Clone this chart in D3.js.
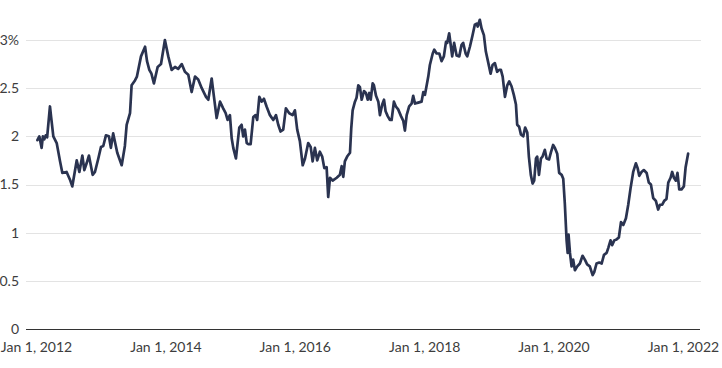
<!DOCTYPE html>
<html>
<head>
<meta charset="utf-8">
<script src="https://cdn.jsdelivr.net/npm/d3@7"></script>
<style>
  html, body { margin: 0; padding: 0; background: #fff; }
  svg { display: block; }
  text { font-family: Lato, "Noto Sans", sans-serif; }
</style>
</head>
<body>
<svg id="chart" width="722" height="368"></svg>
<script>
// ---- data (10-year yield, %) ----
const dates = [
"2012-01-06","2012-01-17","2012-01-30","2012-02-06","2012-02-14","2012-02-22","2012-03-01","2012-03-17","2012-03-23","2012-04-05","2012-04-24","2012-05-13","2012-05-26","2012-06-19","2012-07-08","2012-07-21","2012-08-15","2012-08-30","2012-09-16","2012-09-27","2012-10-10","2012-10-23","2012-11-13","2012-11-26","2012-12-15","2012-12-30",
"2013-01-12","2013-01-27","2013-02-13","2013-02-24","2013-03-09","2013-04-01","2013-04-26","2013-05-14","2013-05-24","2013-06-12","2013-06-21","2013-07-10","2013-07-21","2013-08-13","2013-09-05","2013-09-16","2013-09-29","2013-10-11","2013-10-25","2013-11-15","2013-12-04","2013-12-26",
"2014-01-14","2014-02-02","2014-02-21","2014-03-11","2014-03-31","2014-04-18","2014-05-07","2014-05-26","2014-06-14","2014-07-02","2014-07-22","2014-08-15","2014-08-28","2014-09-16","2014-09-29","2014-10-14","2014-11-02","2014-11-20","2014-12-04","2014-12-15","2014-12-28",
"2015-01-07","2015-01-16","2015-01-31","2015-02-19","2015-03-04","2015-03-13","2015-03-23","2015-04-02","2015-04-11","2015-04-24","2015-05-09","2015-05-22","2015-05-31","2015-06-12","2015-06-25","2015-07-08","2015-07-23","2015-08-11","2015-08-30","2015-09-14","2015-09-27","2015-10-10","2015-10-25","2015-11-09","2015-11-28","2015-12-17","2015-12-30",
"2016-01-12","2016-01-27","2016-02-12","2016-02-25","2016-03-14","2016-03-28","2016-04-08","2016-04-21","2016-05-04","2016-05-19","2016-06-01","2016-06-13","2016-06-26","2016-07-05","2016-07-15","2016-07-30","2016-08-22","2016-09-09","2016-09-19","2016-09-28","2016-10-07","2016-10-20","2016-11-05","2016-11-12","2016-11-20","2016-12-03","2016-12-12","2016-12-22","2016-12-31",
"2017-01-10","2017-01-23","2017-02-03","2017-02-13","2017-02-22","2017-03-02","2017-03-13","2017-03-20","2017-04-01","2017-04-14","2017-04-23","2017-05-06","2017-05-16","2017-05-25","2017-06-06","2017-06-18","2017-06-28","2017-07-11","2017-07-22","2017-08-04","2017-08-20","2017-09-02","2017-09-11","2017-09-21","2017-10-05","2017-10-19","2017-10-28","2017-11-07","2017-11-25","2017-12-14","2017-12-24",
"2018-01-02","2018-01-12","2018-01-21","2018-01-30","2018-02-15","2018-02-24","2018-03-09","2018-03-24","2018-04-06","2018-04-19","2018-05-01","2018-05-08","2018-05-19","2018-05-29","2018-06-05","2018-06-16","2018-06-30","2018-07-15","2018-07-28","2018-08-06","2018-08-20","2018-08-29","2018-09-13","2018-09-28","2018-10-11","2018-10-21","2018-10-27","2018-11-08","2018-11-18","2018-12-01","2018-12-12","2018-12-25",
"2019-01-08","2019-01-19","2019-02-01","2019-02-14","2019-02-25","2019-03-07","2019-03-17","2019-03-30","2019-04-12","2019-04-23","2019-05-06","2019-05-19","2019-05-31","2019-06-07","2019-06-18","2019-06-28","2019-07-11","2019-07-22","2019-08-03","2019-08-12","2019-08-23","2019-09-02","2019-09-11","2019-09-21","2019-09-28","2019-10-08","2019-10-19","2019-10-28","2019-11-10","2019-11-20","2019-12-04","2019-12-14","2019-12-27",
"2020-01-06","2020-01-19","2020-01-30","2020-02-13","2020-02-22","2020-03-02","2020-03-12","2020-03-18","2020-03-23","2020-03-31","2020-04-09","2020-04-18","2020-04-28","2020-05-11","2020-05-26","2020-06-10","2020-06-23","2020-07-06","2020-07-21","2020-08-06","2020-08-15","2020-08-28","2020-09-12","2020-09-26","2020-10-09","2020-10-24","2020-11-02","2020-11-15","2020-11-24","2020-12-06","2020-12-19",
"2021-01-01","2021-01-13","2021-01-26","2021-02-10","2021-02-23","2021-03-08","2021-03-23","2021-04-07","2021-04-17","2021-04-26","2021-05-09","2021-05-22","2021-06-07","2021-06-19","2021-07-01","2021-07-14","2021-07-29","2021-08-11","2021-08-21","2021-09-03","2021-09-14","2021-09-27","2021-10-07","2021-10-20","2021-10-29","2021-11-08","2021-11-19","2021-11-28","2021-12-08","2021-12-21",
"2022-01-03","2022-01-13","2022-01-27"
];
const yields = [
1.96,2.00,1.88,2.00,1.97,2.01,1.99,2.31,2.21,2.00,1.93,1.74,1.62,1.63,1.55,1.48,1.75,1.63,1.80,1.65,1.72,1.80,1.60,1.63,1.77,1.89,
1.90,2.01,2.00,1.88,2.03,1.83,1.70,1.90,2.12,2.24,2.53,2.58,2.62,2.83,2.93,2.78,2.69,2.65,2.55,2.72,2.75,3.00,
2.83,2.69,2.72,2.70,2.75,2.67,2.64,2.46,2.62,2.59,2.50,2.41,2.38,2.60,2.41,2.19,2.36,2.29,2.24,2.17,2.22,
1.98,1.88,1.77,2.09,2.12,2.00,2.07,1.93,1.92,1.92,2.20,2.22,2.17,2.41,2.36,2.39,2.31,2.22,2.17,2.22,2.12,2.05,2.07,2.29,2.24,2.22,2.27,
2.07,1.95,1.70,1.77,1.93,1.89,1.74,1.88,1.75,1.84,1.79,1.67,1.68,1.37,1.57,1.54,1.57,1.60,1.69,1.58,1.74,1.79,1.83,2.08,2.27,2.36,2.40,2.53,2.51,
2.38,2.47,2.45,2.38,2.45,2.38,2.55,2.53,2.42,2.36,2.22,2.33,2.38,2.26,2.21,2.17,2.17,2.36,2.31,2.28,2.21,2.16,2.06,2.22,2.31,2.34,2.42,2.34,2.35,2.36,2.46,
2.43,2.53,2.62,2.74,2.86,2.90,2.86,2.86,2.78,2.83,2.98,2.97,3.07,2.93,2.83,2.97,2.84,2.83,2.95,2.97,2.86,2.83,2.93,3.05,3.16,3.17,3.14,3.21,3.12,3.05,2.88,2.77,
2.65,2.74,2.76,2.67,2.69,2.69,2.62,2.41,2.53,2.57,2.52,2.43,2.33,2.12,2.10,2.02,2.00,2.09,2.04,1.79,1.60,1.51,1.54,1.77,1.79,1.60,1.77,1.79,1.86,1.77,1.76,1.83,1.91,
1.88,1.82,1.62,1.60,1.56,1.30,0.92,0.79,0.98,0.79,0.65,0.72,0.61,0.65,0.68,0.76,0.72,0.67,0.65,0.56,0.59,0.68,0.69,0.68,0.77,0.79,0.84,0.92,0.87,0.92,0.93,
0.95,1.11,1.08,1.15,1.29,1.46,1.63,1.72,1.67,1.59,1.63,1.65,1.62,1.52,1.50,1.36,1.33,1.24,1.29,1.29,1.33,1.35,1.52,1.57,1.63,1.57,1.54,1.62,1.45,1.45,
1.48,1.68,1.82
];
const yTicks = [0, 0.5, 1, 1.5, 2, 2.5, 3];
const yTickLabels = ["0", "0.5", "1", "1.5", "2", "2.5", "3%"];
const xTicks = ["2012-01-01","2014-01-01","2016-01-01","2018-01-01","2020-01-01","2022-01-01"];
const xTickLabels = ["Jan 1, 2012","Jan 1, 2014","Jan 1, 2016","Jan 1, 2018","Jan 1, 2020","Jan 1, 2022"];

// ---- drawing ----
const parse = d3.timeParse("%Y-%m-%d");
const data = dates.map((d, i) => ({ date: parse(d), value: yields[i] }));

const svg = d3.select("#chart");
const gridLeft = 26, gridRight = 701;

const x = d3.scaleTime()
  .domain([parse("2012-01-01"), parse("2022-01-01")])
  .range([36.5, 683.5]);
const y = d3.scaleLinear().domain([0, 3]).range([329, 40]);

// gridlines
svg.append("g").selectAll("line")
  .data(yTicks.filter(t => t !== 0))
  .join("line")
  .attr("x1", gridLeft).attr("x2", gridRight)
  .attr("y1", d => Math.round(y(d)) + 0.5).attr("y2", d => Math.round(y(d)) + 0.5)
  .attr("stroke", "#e3e3e3").attr("stroke-width", 1);

// y labels
svg.append("g").selectAll("text")
  .data(yTicks)
  .join("text")
  .attr("x", 19)
  .attr("y", d => y(d))
  .attr("dy", "0.35em")
  .attr("text-anchor", "end")
  .attr("font-size", 14)
  .attr("fill", "#3d3d3d")
  .text((d, i) => yTickLabels[i]);

// zero baseline
svg.append("line")
  .attr("x1", gridLeft).attr("x2", gridRight - 1)
  .attr("y1", Math.round(y(0)) + 0.5).attr("y2", Math.round(y(0)) + 0.5)
  .attr("stroke", "#333").attr("stroke-width", 1);

// x labels
svg.append("g").selectAll("text")
  .data(xTicks)
  .join("text")
  .attr("x", d => x(parse(d)))
  .attr("y", 352)
  .attr("text-anchor", "middle")
  .attr("font-size", 14)
  .attr("fill", "#3d3d3d")
  .text((d, i) => xTickLabels[i]);

// line
const line = d3.line()
  .x(d => x(d.date))
  .y(d => y(d.value));

svg.append("path")
  .datum(data)
  .attr("fill", "none")
  .attr("stroke", "#2a3350")
  .attr("stroke-width", 2.7)
  .attr("stroke-linejoin", "round")
  .attr("stroke-linecap", "round")
  .attr("d", line);
</script>
</body>
</html>
